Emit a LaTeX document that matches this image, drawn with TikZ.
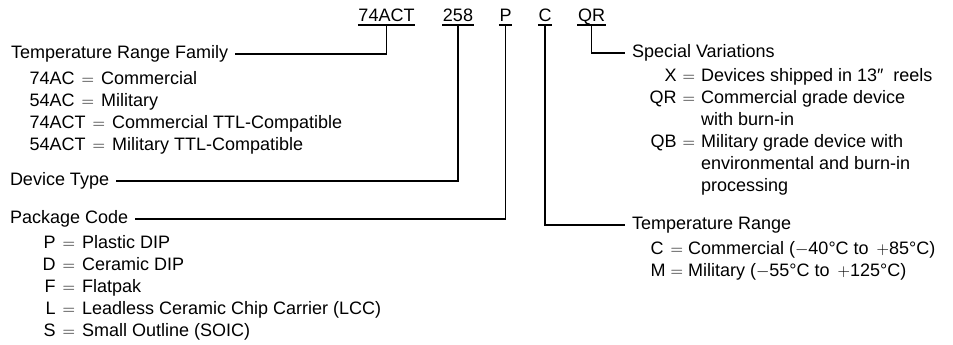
\documentclass[tikz,border=0pt]{standalone}
\usepackage{fontspec}
\setmainfont{Liberation Sans}

\newcommand{\eqs}{\hspace{7pt}$=$\hspace{7pt}}

\begin{document}
\begin{tikzpicture}[x=1pt, y=1pt, line width=1.2pt,
    every node/.style={font=\fontsize{18}{22}\selectfont, inner sep=0pt},
    code/.style={anchor=south, text depth=3pt},
    head/.style={anchor=west, text height=13pt, text depth=4pt, outer xsep=7pt},
    items/.style={anchor=north west}]
    \useasboundingbox (0, 0) rectangle (953, -345);

    \node [code] (famcode) at (386.5, -25) {74ACT};
    \node [code] (typecode) at (458, -25) {258};
    \node [code] (pkgcode) at (505.5, -25) {P};
    \node [code] (rangecode) at (545, -25) {C};
    \node [code] (varcode) at (591.5, -25) {QR};
    \foreach \c in {famcode, typecode, pkgcode, rangecode, varcode}
        \draw (\c.south west) -- (\c.south east);

    \node [head] (trf) at (4, -54) {Temperature Range Family};
    \node [items] (famlist) at (29, -68) {\begin{tabular}{@{}l@{}}
        74AC\eqs Commercial\\
        54AC\eqs Military\\
        74ACT\eqs Commercial TTL-Compatible\\
        54ACT\eqs Military TTL-Compatible
    \end{tabular}};

    \node [head] (devtype) at (3, -181) {Device Type};

    \node [head] (pkg) at (3, -219) {Package Code};
    \node [items] (pkglist) at (42, -232) {\begin{tabular}{@{}r@{\hspace{7pt}}c@{\hspace{7pt}}l@{}}
        P & $=$ & Plastic DIP\\
        D & $=$ & Ceramic DIP\\
        F & $=$ & Flatpak\\
        L & $=$ & Leadless Ceramic Chip Carrier (LCC)\\
        S & $=$ & Small Outline (SOIC)
    \end{tabular}};

    \node [head] (specvar) at (625, -53) {Special Variations};
    \node [items] (varlist) at (649, -65) {\begin{tabular}{@{}r@{\hspace{6pt}}c@{\hspace{6pt}}l@{}}
        X & $=$ & Devices shipped in 13″\hspace{10pt}reels\\
        QR & $=$ & Commercial grade device\\
           &     & with burn-in\\
        QB & $=$ & Military grade device with\\
           &     & environmental and burn-in\\
           &     & processing
    \end{tabular}};

    \node [head] (temprange) at (625, -225) {Temperature Range};
    \node [items] (rangelist) at (650, -238) {\begin{tabular}{@{}l@{\hspace{5pt}}c@{\hspace{5pt}}l@{}}
        C & $=$ & Commercial ($-$40°C to \,$+$85°C)\\
        M & $=$ & Military ($-$55°C to \,$+$125°C)
    \end{tabular}};

    \draw (famcode.south) |- (trf.east);
    \draw (typecode.south) |- (devtype.east);
    \draw (pkgcode.south) |- (pkg.east);
    \draw (rangecode.south) |- (temprange.west);
    \draw (varcode.south) |- (specvar.west);
\end{tikzpicture}
\end{document}
